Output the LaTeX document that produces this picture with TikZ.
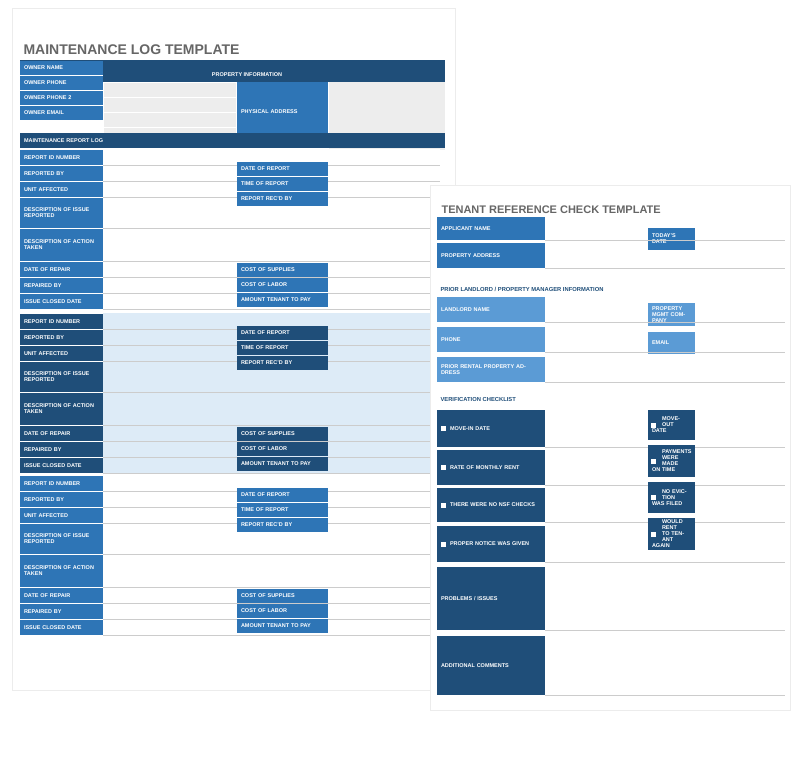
\documentclass[tikz,border=0pt]{standalone}
\usepackage{fontspec}
\setmainfont{Liberation Sans}
\usepackage{tikz}
\usetikzlibrary{positioning}

\definecolor{navy}{HTML}{1F4E79}
\definecolor{midblue}{HTML}{2E75B6}
\definecolor{liteblue}{HTML}{5B9BD5}
\definecolor{paleblue}{HTML}{DDEBF7}
\definecolor{inputgray}{HTML}{EDEDED}
\definecolor{titlegray}{HTML}{666666}

\tikzset{
  cellstyle/.style={inner xsep=4pt, inner ysep=0pt, align=left, text=white,
    font=\fontsize{5.5}{6}\selectfont\bfseries},
  bluecell/.style={cellstyle, fill=midblue},
  navycell/.style={cellstyle, fill=navy},
  litecell/.style={cellstyle, fill=liteblue},
  graycell/.style={cellstyle, fill=inputgray},
  rowline/.style={draw=gray!40, line width=0.5pt},
  chkbox/.style={draw=none, fill=white, minimum size=5pt, inner sep=0pt},
  pagestyle/.style={fill=white, draw=gray!15}
}

% box from (x1,y1) to (x2,y2), text left aligned
\newcommand\cellbox[7]{%
  \pgfmathsetmacro\cw{(#5)-(#3)}\pgfmathsetmacro\ch{(#6)-(#4)}%
  \pgfmathsetmacro\tw{max((#5)-(#3)-8,4)}%
  \node[#1, minimum width=\cw pt, minimum height=\ch pt, text width=\tw pt]
    (#2) at ({((#3)+(#5))/2},{((#4)+(#6))/2}) {#7};}

\begin{document}
\begin{tikzpicture}[x=1pt, y=-1pt]
  \useasboundingbox (0,0) rectangle (794,772);

  % maintenance log page
  \path[pagestyle] (12,8) rectangle (455,690);
  \node[anchor=west, text=titlegray, font=\fontsize{14}{16}\selectfont\bfseries]
    (mtitle) at (20,50) {MAINTENANCE LOG TEMPLATE};

  % property information
  \cellbox{navycell}{prophead}{20}{60}{445}{70}{}
  \cellbox{navycell}{prophead2}{103}{70}{445}{82}{}
  \node[text=white, font=\fontsize{5.5}{6}\selectfont\bfseries] (propinfo) at (247,75) {PROPERTY INFORMATION};
  \foreach \y/\t [count=\i] in {60/OWNER NAME, 75/OWNER PHONE, 90/OWNER PHONE 2, 105/OWNER EMAIL} {
    \cellbox{bluecell}{own\i}{20}{\y+0.5}{103}{\y+15}{\t}
  }
  \foreach \y [count=\i] in {82,97,112,127} {
    \cellbox{graycell}{owni\i}{104}{\y+0.5}{236}{\y+15}{}
  }
  \cellbox{bluecell}{physaddr}{237}{82}{328}{142}{\centering PHYSICAL ADDRESS}
  \cellbox{graycell}{physin}{329}{82}{445}{150}{}

  % maintenance report log
  \cellbox{navycell}{loghead}{20}{133}{445}{148}{MAINTENANCE REPORT LOG}
  \foreach \base/\lc/\fc [count=\b] in {149/bluecell/white, 313/navycell/paleblue, 475/bluecell/white} {
    \fill[\fc] (103,\base) rectangle (440,\base+160);
    \foreach \y/\h/\t [count=\r] in {0/16/REPORT ID NUMBER, 16/16/REPORTED BY, 32/16/UNIT AFFECTED,
        48/31/{DESCRIPTION OF ISSUE REPORTED}, 79/33/{DESCRIPTION OF ACTION TAKEN},
        112/16/DATE OF REPAIR, 128/16/REPAIRED BY, 144/16/ISSUE CLOSED DATE} {
      \cellbox{\lc}{m\b-\r}{20}{\base+\y+0.5}{103}{\base+\y+\h}{\t}
      \draw[rowline] (103,\base+\y+\h) -- (440,\base+\y+\h);
    }
    \foreach \y/\t [count=\r] in {12/DATE OF REPORT, 27/TIME OF REPORT, 42/REPORT REC'D BY,
        113/COST OF SUPPLIES, 128/COST OF LABOR, 143/AMOUNT TENANT TO PAY} {
      \cellbox{\lc}{r\b-\r}{237}{\base+\y+0.5}{328}{\base+\y+15}{\t}
    }
  }

  % tenant reference check page
  \path[pagestyle] (430,185) rectangle (790,710);
  \node[anchor=west, text=titlegray, font=\fontsize{11}{13}\selectfont\bfseries]
    (ttitle) at (438,210) {TENANT REFERENCE CHECK TEMPLATE};
  \cellbox{bluecell}{appname}{437}{217}{545}{240}{APPLICANT NAME}
  \cellbox{bluecell}{propaddr}{437}{243}{545}{268}{PROPERTY ADDRESS}
  \cellbox{bluecell}{today}{648}{228}{695}{250}{TODAY'S DATE}
  \draw[rowline] (545,240) -- (785,240);
  \draw[rowline] (545,268) -- (785,268);
  \node[anchor=west, text=navy, font=\fontsize{5.8}{7}\selectfont\bfseries]
    (priorlbl) at (437,289) {PRIOR LANDLORD / PROPERTY MANAGER INFORMATION};
  \cellbox{litecell}{llname}{437}{297}{545}{322}{LANDLORD NAME}
  \cellbox{litecell}{llphone}{437}{327}{545}{352}{PHONE}
  \cellbox{litecell}{prioraddr}{437}{357}{545}{382}{PRIOR RENTAL PROPERTY ADDRESS}
  \cellbox{litecell}{mgmt}{648}{303}{695}{326}{PROPERTY MGMT COMPANY}
  \cellbox{litecell}{email}{648}{332}{695}{354}{EMAIL}
  \foreach \y in {322,352,382} \draw[rowline] (545,\y) -- (785,\y);
  \node[anchor=west, text=navy, font=\fontsize{5.8}{7}\selectfont\bfseries]
    (checklbl) at (437,399) {VERIFICATION CHECKLIST};
  \foreach \ya/\yb/\t [count=\i] in {410/447/MOVE-IN DATE, 450/485/RATE OF MONTHLY RENT,
      488/522/THERE WERE NO NSF CHECKS, 526/562/PROPER NOTICE WAS GIVEN} {
    \cellbox{navycell}{chk\i}{437}{\ya}{545}{\yb}{\hspace*{9pt}\t}
    \node[chkbox, right=4pt of chk\i.west] (box\i) {};
    \draw[rowline] (545,\yb) -- (785,\yb);
  }
  \foreach \ya/\yb/\t [count=\i] in {410/440/{MOVE-OUT\\DATE}, 445/477/{PAYMENTS\\WERE MADE\\ON TIME},
      482/513/{NO EVICTION\\WAS FILED}, 518/550/{WOULD RENT\\TO TENANT\\AGAIN}} {
    \cellbox{navycell}{rchk\i}{648}{\ya}{695}{\yb}{\leftskip=10pt\t}
    \node[chkbox, right=3pt of rchk\i.west] (rbox\i) {};
  }
  \cellbox{navycell}{problems}{437}{567}{545}{630}{PROBLEMS / ISSUES}
  \cellbox{navycell}{comments}{437}{636}{545}{695}{ADDITIONAL COMMENTS}
  \draw[rowline] (545,630) -- (785,630);
  \draw[rowline] (545,695) -- (785,695);
\end{tikzpicture}
\end{document}
